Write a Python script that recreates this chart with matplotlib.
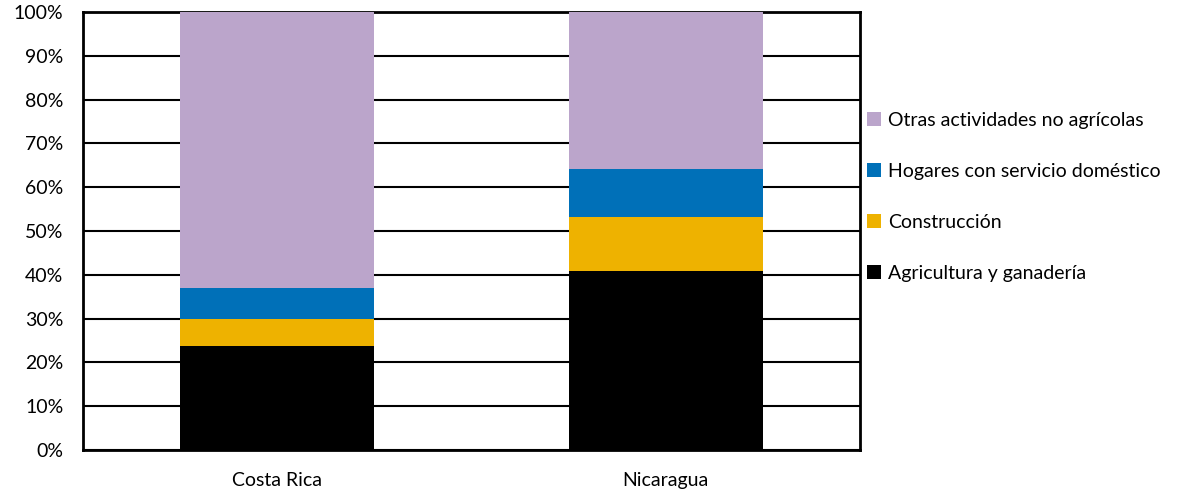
import numpy as np
import matplotlib.pyplot as plt
from matplotlib.ticker import PercentFormatter

plt.rcParams['font.family'] = ['Lato', 'DejaVu Sans']

countries = ['Costa Rica', 'Nicaragua']
agricultura = [23.7, 40.9]
construccion = [6.2, 12.3]
hogares = [7.1, 11.0]
otras = [63.0, 35.8]

series = [
    ('Agricultura y ganadería', agricultura, '#000000'),
    ('Construcción', construccion, '#EEB200'),
    ('Hogares con servicio doméstico', hogares, '#0070B8'),
    ('Otras actividades no agrícolas', otras, '#BBA5CB'),
]

fig = plt.figure(figsize=(11.87, 4.95), dpi=100)
ax = fig.add_axes([0.0699, 0.0909, 0.6546, 0.8849])

x = np.arange(len(countries))
bottom = np.zeros(len(countries))
handles = []
for label, vals, color in series:
    h = ax.bar(x, vals, width=0.5, bottom=bottom, color=color, label=label, zorder=3)
    handles.append(h)
    bottom += np.array(vals)

ax.set_xlim(-0.5, 1.5)
ax.set_ylim(0, 100)
ax.set_yticks(np.arange(0, 101, 10))
ax.yaxis.set_major_formatter(PercentFormatter(decimals=0))
ax.set_xticks(x)
ax.set_xticklabels(countries)
ax.tick_params(axis='both', length=0, labelsize=14)
ax.tick_params(axis='y', pad=14)
ax.tick_params(axis='x', pad=16)
ax.grid(axis='y', color='black', linewidth=1.5, zorder=0)
for s in ax.spines.values():
    s.set_linewidth(2)
    s.set_color('black')

fig.legend(handles[::-1], [s[0] for s in series][::-1],
           loc='upper left', bbox_to_anchor=(0.716, 0.81),
           frameon=False, fontsize=14, handlelength=0.7, handleheight=0.7,
           handletextpad=0.35, labelspacing=1.75)

fig.savefig('out.png', dpi=100)
